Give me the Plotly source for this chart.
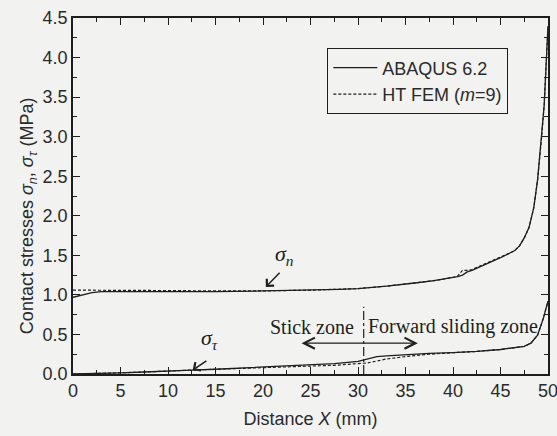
import plotly.graph_objects as go

# ---- data ----
x_n = [0, 1, 2, 3, 5, 10, 15, 20, 25, 28, 30, 33, 36, 38, 40, 40.5, 41, 41.5, 42, 43, 44, 45, 46, 46.5, 47, 47.5, 48, 48.5, 48.9, 49.3, 49.6, 49.8, 50]
sn_abaqus = [0.97, 1.00, 1.03, 1.04, 1.04, 1.04, 1.04, 1.05, 1.06, 1.07, 1.08, 1.11, 1.15, 1.18, 1.22, 1.23, 1.25, 1.29, 1.31, 1.36, 1.42, 1.47, 1.53, 1.56, 1.62, 1.72, 1.85, 2.1, 2.45, 2.95, 3.4, 3.9, 4.4]
sn_htfem = [1.06, 1.06, 1.06, 1.06, 1.06, 1.055, 1.05, 1.05, 1.06, 1.07, 1.08, 1.11, 1.15, 1.18, 1.22, 1.24, 1.31, 1.31, 1.32, 1.37, 1.42, 1.47, 1.53, 1.56, 1.62, 1.72, 1.85, 2.1, 2.45, 2.95, 3.4, 3.9, 4.4]

x_t = [0, 2.5, 5, 7.5, 10, 12.5, 15, 17.5, 20, 22.5, 25, 27.5, 30, 31, 32, 33, 35, 37.5, 40, 42.5, 45, 46.5, 47.5, 48.2, 48.9, 49.5, 50]
st_abaqus = [0.0, 0.005, 0.015, 0.025, 0.04, 0.05, 0.06, 0.075, 0.085, 0.10, 0.115, 0.13, 0.16, 0.19, 0.22, 0.23, 0.245, 0.26, 0.27, 0.285, 0.31, 0.33, 0.35, 0.39, 0.49, 0.70, 0.92]
st_htfem = [0.0, 0.005, 0.015, 0.025, 0.04, 0.05, 0.06, 0.072, 0.082, 0.092, 0.10, 0.11, 0.125, 0.14, 0.165, 0.19, 0.22, 0.25, 0.27, 0.285, 0.31, 0.33, 0.35, 0.39, 0.49, 0.70, 0.92]

x_ticks = [0, 5, 10, 15, 20, 25, 30, 35, 40, 45, 50]
y_ticks = [0.0, 0.5, 1.0, 1.5, 2.0, 2.5, 3.0, 3.5, 4.0, 4.5]
legend_names = ["ABAQUS 6.2", "HT FEM (<i>m</i>=9)"]
y_title = "Contact stresses <i>σ</i><sub><i>n</i></sub>, <i>σ</i><sub><i>τ</i></sub> (MPa)"
x_title = "Distance <i>X</i> (mm)"
zone_boundary = 30.6

ink = "#1e1e1e"
txt = "#2a2a2a"
bg = "#f2f2f0"
sans = "Liberation Sans, Arial, sans-serif"
serif = "Liberation Serif, Times New Roman, serif"

fig = go.Figure()
fig.add_trace(go.Scatter(x=x_n, y=sn_abaqus, mode="lines", name=legend_names[0],
                         legendgroup="a", line=dict(color=ink, width=1.3)))
fig.add_trace(go.Scatter(x=x_n, y=sn_htfem, mode="lines", name=legend_names[1],
                         legendgroup="b", line=dict(color=ink, width=1.2, dash="3px,2px")))
fig.add_trace(go.Scatter(x=x_t, y=st_abaqus, mode="lines", name=legend_names[0], showlegend=False,
                         legendgroup="a", line=dict(color=ink, width=1.3)))
fig.add_trace(go.Scatter(x=x_t, y=st_htfem, mode="lines", name=legend_names[1], showlegend=False,
                         legendgroup="b", line=dict(color=ink, width=1.2, dash="3px,2px")))

axis_common = dict(showline=True, linecolor=ink, linewidth=1.5, mirror="ticks",
                   ticks="inside", ticklen=7, tickwidth=1.3, tickcolor=ink,
                   showgrid=False, zeroline=False, ticklabeloverflow="allow",
                   tickfont=dict(family=sans, size=18, color=txt))

fig.update_xaxes(range=[0, 50], tickvals=x_ticks, ticktext=[str(v) for v in x_ticks],
                 minor=dict(ticks="inside", ticklen=4, tickwidth=1.2, tickcolor=ink, dtick=2.5, tick0=0),
                 title=dict(text=x_title, font=dict(family=sans, size=18, color=txt), standoff=12),
                 **axis_common)
fig.update_yaxes(range=[0, 4.5], tickvals=y_ticks, ticktext=[f"{v:.1f}" for v in y_ticks],
                 minor=dict(ticks="inside", ticklen=4, tickwidth=1.2, tickcolor=ink, dtick=0.25, tick0=0),
                 **axis_common)

# zone boundary
fig.add_shape(type="line", x0=zone_boundary, x1=zone_boundary, y0=0, y1=0.85,
              xref="x", yref="y", line=dict(color=ink, width=1.2, dash="dashdot"))

annos = [
    dict(x=-0.122, y=0.445, xref="paper", yref="paper", showarrow=False, textangle=-90,
         text=y_title, font=dict(family=sans, size=18, color=txt)),
    dict(x=20.3, y=1.1, ax=21.9, ay=1.3, axref="x", ayref="y", xref="x", yref="y",
         showarrow=True, arrowhead=4, arrowsize=1.3, arrowwidth=1.5, arrowcolor=ink, text=""),
    dict(x=12.6, y=0.05, ax=14.2, ay=0.18, axref="x", ayref="y", xref="x", yref="y",
         showarrow=True, arrowhead=4, arrowsize=1.3, arrowwidth=1.5, arrowcolor=ink, text=""),
    dict(x=36.3, y=0.39, ax=23.9, ay=0.39, axref="x", ayref="y", xref="x", yref="y",
         showarrow=True, arrowhead=5, startarrowhead=5, arrowside="end+start",
         arrowsize=1.8, startarrowsize=1.8, arrowwidth=1.2, arrowcolor=ink, text=""),
    dict(x=22.3, y=1.5, xref="x", yref="y", showarrow=False,
         text="<i>σ</i><sub><i>n</i></sub>", font=dict(family=serif, size=22, color=ink)),
    dict(x=14.4, y=0.44, xref="x", yref="y", showarrow=False,
         text="<i>σ</i><sub><i>τ</i></sub>", font=dict(family=serif, size=22, color=ink)),
    dict(x=29.8, y=0.6, xref="x", yref="y", showarrow=False, xanchor="right",
         text="Stick zone", font=dict(family=serif, size=20, color=ink)),
    dict(x=30.8, y=0.6, xref="x", yref="y", showarrow=False, xanchor="left",
         text="Forward sliding zone", font=dict(family=serif, size=20, color=ink)),
]
fig.update_layout(annotations=annos)

fig.update_layout(
    width=557, height=436,
    margin=dict(l=73, r=9, t=18, b=62, autoexpand=False),
    paper_bgcolor=bg, plot_bgcolor=bg,
    showlegend=True,
    legend=dict(x=0.535, y=0.915, xanchor="left", yanchor="top",
                bgcolor=bg, bordercolor=ink, borderwidth=1.2,
                font=dict(family=sans, size=18, color=txt),
                itemwidth=44, tracegroupgap=0),
)

fig.write_html("out.html")
